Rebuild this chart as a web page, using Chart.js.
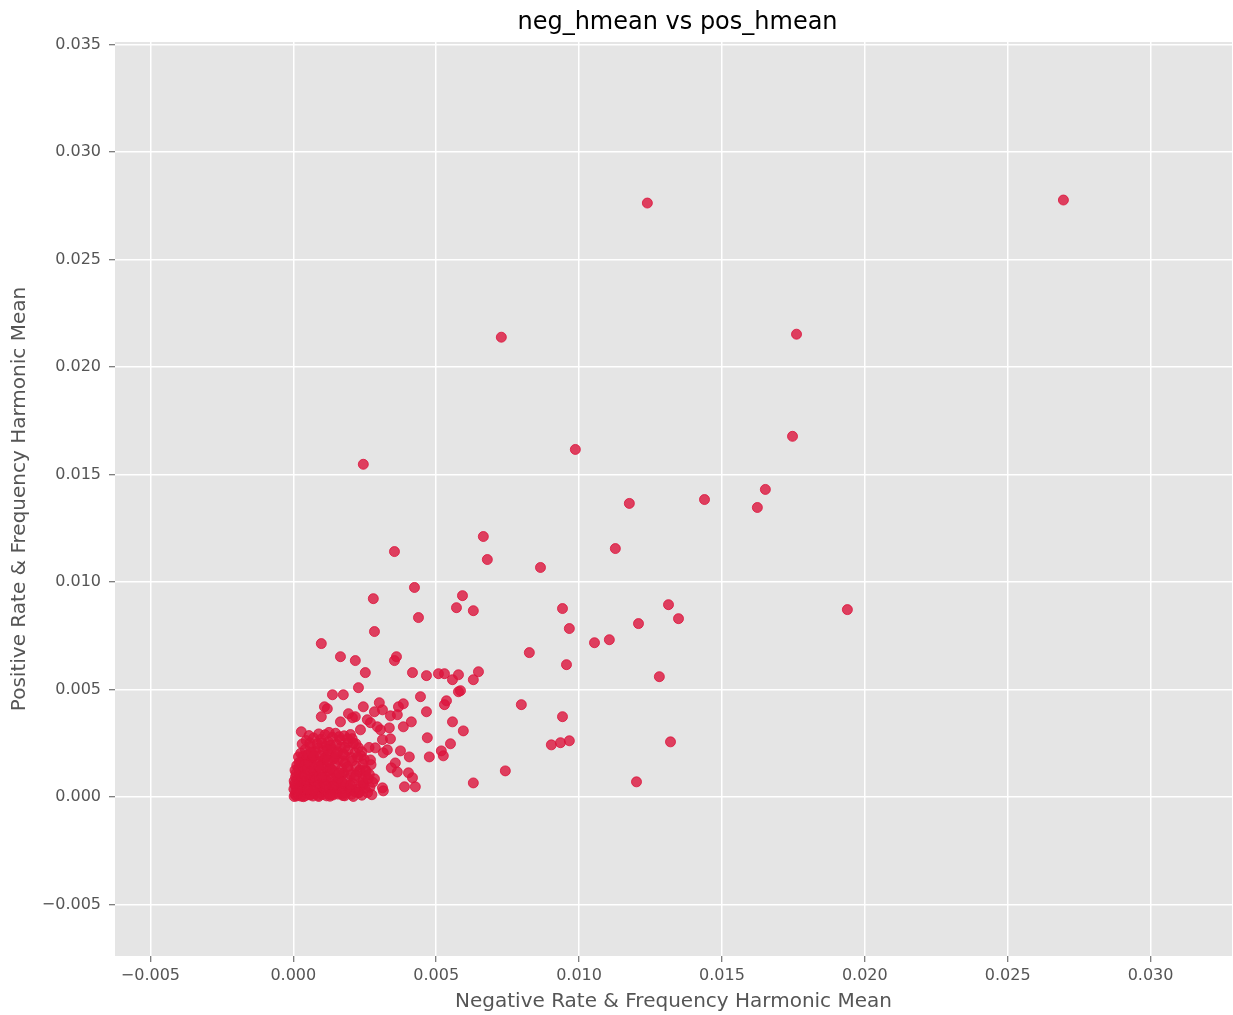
<!DOCTYPE html>
<html>
<head>
<meta charset="utf-8">
<title>neg_hmean vs pos_hmean</title>
<script src="https://cdn.jsdelivr.net/npm/chart.js@4.4.1/dist/chart.umd.min.js"></script>
<style>
  html, body { margin: 0; padding: 0; background: #ffffff; overflow: hidden; }
  canvas { display: block; }
</style>
</head>
<body>
<canvas id="chart" width="1233" height="1015"></canvas>
<script>
// Labels
const chartTitle = 'neg_hmean vs pos_hmean';
const xTitle = 'Negative Rate & Frequency Harmonic Mean';
const yTitle = 'Positive Rate & Frequency Harmonic Mean';

// Axis ticks and ranges
const xTicks = [-0.005, 0.000, 0.005, 0.010, 0.015, 0.020, 0.025, 0.030];
const yTicks = [-0.005, 0.000, 0.005, 0.010, 0.015, 0.020, 0.025, 0.030, 0.035];
const xRange = [-0.00624, 0.03285];
const yRange = [-0.0074, 0.03511];

// Words with high neg/pos harmonic means: [neg_hmean, pos_hmean]
const sparsePoints = [
  [0.02695, 0.02776], [0.01239, 0.02762], [0.00728, 0.02138], [0.01761, 0.02152],
  [0.01747, 0.01677], [0.00987, 0.01616], [0.00245, 0.01547], [0.01176, 0.01365],
  [0.01439, 0.01383], [0.01652, 0.01430], [0.01624, 0.01346], [0.00665, 0.01211],
  [0.01127, 0.01155], [0.00354, 0.01141], [0.00679, 0.01104], [0.00865, 0.01067],
  [0.00424, 0.00974], [0.00280, 0.00922], [0.00592, 0.00936], [0.00571, 0.00880],
  [0.00630, 0.00866], [0.00942, 0.00876], [0.01313, 0.00894], [0.00438, 0.00834],
  [0.01348, 0.00829], [0.01939, 0.00871], [0.00966, 0.00783], [0.01208, 0.00806],
  [0.01106, 0.00731], [0.01054, 0.00717], [0.00284, 0.00769], [0.00098, 0.00713],
  [0.00826, 0.00671], [0.00956, 0.00615], [0.01281, 0.00559], [0.00165, 0.00652],
  [0.00217, 0.00634], [0.00252, 0.00578], [0.00354, 0.00634], [0.00361, 0.00652],
  [0.00417, 0.00578], [0.00466, 0.00564], [0.00508, 0.00573], [0.00529, 0.00573],
  [0.00578, 0.00568], [0.00557, 0.00545], [0.00648, 0.00582], [0.00630, 0.00545],
  [0.00578, 0.00489], [0.00585, 0.00494], [0.00445, 0.00466], [0.00385, 0.00433],
  [0.00368, 0.00419], [0.00536, 0.00447], [0.00529, 0.00429], [0.00466, 0.00396],
  [0.00413, 0.00349], [0.00385, 0.00326], [0.00557, 0.00349], [0.00595, 0.00307],
  [0.00798, 0.00429], [0.00942, 0.00373], [0.00469, 0.00275], [0.00550, 0.00247],
  [0.00518, 0.00214], [0.00525, 0.00191], [0.00375, 0.00214], [0.00406, 0.00186],
  [0.00476, 0.00186], [0.00903, 0.00242], [0.00935, 0.00252], [0.00966, 0.00261],
  [0.01320, 0.00256], [0.00742, 0.00121], [0.00403, 0.00112], [0.00417, 0.00089],
  [0.00389, 0.00047], [0.00427, 0.00047], [0.00630, 0.00065], [0.01201, 0.00070],
  [0.00228, 0.00508], [0.00137, 0.00475], [0.00175, 0.00475], [0.00301, 0.00438],
  [0.00245, 0.00419], [0.00109, 0.00419], [0.00119, 0.00410], [0.00193, 0.00387],
  [0.00217, 0.00373], [0.00098, 0.00373], [0.00284, 0.00396], [0.00312, 0.00405],
  [0.00340, 0.00377], [0.00364, 0.00382], [0.00259, 0.00359], [0.00270, 0.00345],
  [0.00028, 0.00303], [0.00336, 0.00321], [0.00305, 0.00312], [0.00340, 0.00270],
  [0.00315, 0.00205], [0.00329, 0.00219], [0.00357, 0.00158], [0.00364, 0.00116],
  [0.00343, 0.00135], [0.00284, 0.00084], [0.00312, 0.00042], [0.00315, 0.00028],
  [0.00228, 0.00019], [0.00245, 0.00056], [0.00165, 0.00349], [0.00207, 0.00368],
  [0.00235, 0.00312], [0.00294, 0.00326], [0.00312, 0.00266], [0.00287, 0.00228],
  [0.00270, 0.00172], [0.00252, 0.00126]
];

// Bulk of the vocabulary, packed near the origin
const densePoints = [
  [0.00003, 0.00002], [0.00006, 0.00011], [0.00011, 0.00004], [0.00014, 0.00019],
  [0.00019, 0.00008], [0.00024, 0.00027], [0.00028, 0.00003], [0.00033, 0.00014],
  [0.00038, 0.00022], [0.00042, 0.00006], [0.00047, 0.00017], [0.00053, 0.00029],
  [0.00058, 0.00009], [0.00064, 0.00021], [0.00069, 0.00004], [0.00075, 0.00015],
  [0.00081, 0.00026], [0.00087, 0.00007], [0.00094, 0.00018], [0.00101, 0.00011],
  [0.00108, 0.00024], [0.00116, 0.00005], [0.00123, 0.00016], [0.00131, 0.00028],
  [0.00139, 0.00009], [0.00147, 0.00021], [0.00156, 0.00013], [0.00165, 0.00026],
  [0.00174, 0.00006], [0.00183, 0.00018], [0.00193, 0.00029], [0.00204, 0.00012],
  [0.00216, 0.00024], [0.00009, 0.00025], [0.00017, 0.00014], [0.00036, 0.00001],
  [0.00061, 0.00012], [0.00089, 0.00002], [0.00128, 0.00003], [0.00171, 0.00015],
  [0.00002, 0.00036], [0.00007, 0.00052], [0.00013, 0.00041], [0.00018, 0.00063],
  [0.00025, 0.00047], [0.00031, 0.00058], [0.00036, 0.00034], [0.00043, 0.00069],
  [0.00049, 0.00044], [0.00055, 0.00056], [0.00062, 0.00038], [0.00068, 0.00065],
  [0.00074, 0.00049], [0.00081, 0.00033], [0.00087, 0.00061], [0.00094, 0.00045],
  [0.00102, 0.00068], [0.00109, 0.00037], [0.00117, 0.00054], [0.00125, 0.00042],
  [0.00134, 0.00066], [0.00143, 0.00035], [0.00152, 0.00051], [0.00161, 0.00062],
  [0.00171, 0.00039], [0.00182, 0.00057], [0.00194, 0.00046], [0.00207, 0.00064],
  [0.00221, 0.00036], [0.00236, 0.00052], [0.00015, 0.00031], [0.00046, 0.00051],
  [0.00078, 0.00057], [0.00113, 0.00047], [0.00147, 0.00059], [0.00199, 0.00033],
  [0.00003, 0.00074], [0.00008, 0.00093], [0.00014, 0.00081], [0.00021, 0.00108],
  [0.00027, 0.00072], [0.00034, 0.00096], [0.00041, 0.00116], [0.00047, 0.00079],
  [0.00054, 0.00102], [0.00061, 0.00087], [0.00068, 0.00113], [0.00075, 0.00075],
  [0.00083, 0.00099], [0.00091, 0.00084], [0.00099, 0.00118], [0.00107, 0.00091],
  [0.00116, 0.00077], [0.00125, 0.00106], [0.00134, 0.00088], [0.00144, 0.00114],
  [0.00154, 0.00073], [0.00165, 0.00097], [0.00176, 0.00111], [0.00188, 0.00082],
  [0.00201, 0.00103], [0.00214, 0.00089], [0.00229, 0.00117], [0.00243, 0.00078],
  [0.00252, 0.00098], [0.00037, 0.00071], [0.00072, 0.00095], [0.00119, 0.00119],
  [0.00158, 0.00086],
  [0.00006, 0.00124], [0.00012, 0.00146], [0.00019, 0.00132], [0.00026, 0.00158],
  [0.00033, 0.00138], [0.00041, 0.00171], [0.00048, 0.00127], [0.00056, 0.00152],
  [0.00064, 0.00176], [0.00072, 0.00134], [0.00081, 0.00161], [0.00089, 0.00122],
  [0.00098, 0.00147], [0.00107, 0.00173], [0.00116, 0.00136], [0.00126, 0.00159],
  [0.00136, 0.00126], [0.00147, 0.00149], [0.00158, 0.00174], [0.00169, 0.00131],
  [0.00181, 0.00156], [0.00193, 0.00128], [0.00206, 0.00167], [0.00219, 0.00142],
  [0.00233, 0.00125], [0.00244, 0.00153], [0.00052, 0.00163], [0.00093, 0.00168],
  [0.00141, 0.00178], [0.00175, 0.00167],
  [0.00018, 0.00186], [0.00026, 0.00203], [0.00034, 0.00189], [0.00042, 0.00221],
  [0.00051, 0.00196], [0.00059, 0.00234], [0.00068, 0.00184], [0.00077, 0.00211],
  [0.00086, 0.00227], [0.00095, 0.00192], [0.00105, 0.00216], [0.00115, 0.00238],
  [0.00124, 0.00199], [0.00134, 0.00224], [0.00145, 0.00187], [0.00156, 0.00209],
  [0.00167, 0.00231], [0.00179, 0.00194], [0.00191, 0.00218], [0.00203, 0.00183],
  [0.00216, 0.00206], [0.00228, 0.00229], [0.00237, 0.00191], [0.00112, 0.00183],
  [0.00063, 0.00207],
  [0.00031, 0.00246], [0.00045, 0.00262], [0.00058, 0.00251], [0.00071, 0.00274],
  [0.00084, 0.00248], [0.00097, 0.00268], [0.00111, 0.00289], [0.00123, 0.00256],
  [0.00137, 0.00277], [0.00151, 0.00245], [0.00164, 0.00266], [0.00178, 0.00284],
  [0.00192, 0.00253], [0.00206, 0.00271], [0.00219, 0.00247], [0.00089, 0.00293],
  [0.00148, 0.00296],
  [0.00020, 0.00040], [0.00050, 0.00035], [0.00080, 0.00045], [0.00110, 0.00060],
  [0.00140, 0.00050], [0.00170, 0.00070], [0.00200, 0.00055], [0.00230, 0.00020],
  [0.00250, 0.00040], [0.00245, 0.00065], [0.00260, 0.00020], [0.00255, 0.00120],
  [0.00262, 0.00085], [0.00248, 0.00175], [0.00240, 0.00210], [0.00225, 0.00185],
  [0.00030, 0.00090], [0.00060, 0.00120], [0.00090, 0.00140], [0.00120, 0.00170],
  [0.00150, 0.00200], [0.00180, 0.00230], [0.00210, 0.00250], [0.00040, 0.00150],
  [0.00070, 0.00190], [0.00100, 0.00250], [0.00130, 0.00240], [0.00160, 0.00280],
  [0.00190, 0.00270], [0.00020, 0.00160], [0.00010, 0.00110], [0.00005, 0.00060],
  [0.00130, 0.00010], [0.00180, 0.00005], [0.00210, 0.00002], [0.00240, 0.00008],
  [0.00100, 0.00090], [0.00130, 0.00130], [0.00160, 0.00110], [0.00190, 0.00140],
  [0.00220, 0.00100], [0.00070, 0.00030], [0.00040, 0.00100], [0.00120, 0.00220],
  [0.00175, 0.00200], [0.00055, 0.00285], [0.00125, 0.00300], [0.00200, 0.00290],
  [0.00268, 0.00045], [0.00275, 0.00010], [0.00272, 0.00150], [0.00265, 0.00230],
  [0.00278, 0.00068], [0.00266, 0.00105]
];

const markerColor = 'rgba(220, 20, 60, 0.8)';
const fontFamily = '"DejaVu Sans", "Liberation Sans", sans-serif';

const toXY = p => ({ x: p[0], y: p[1] });
const fmtTick = v => Number(v).toFixed(3).replace('-', '\u2212');

// Grey panel behind the plot area
const panelBackground = {
  id: 'panelBackground',
  beforeDraw(chart) {
    const { ctx, chartArea: a } = chart;
    ctx.save();
    ctx.fillStyle = '#e5e5e5';
    ctx.fillRect(a.left, a.top, a.right - a.left, a.bottom - a.top);
    ctx.restore();
  }
};

// Title centred over the plot area
const plotTitle = {
  id: 'plotTitle',
  afterDraw(chart) {
    const { ctx, chartArea: a } = chart;
    ctx.save();
    ctx.font = '24px ' + fontFamily;
    ctx.fillStyle = '#000000';
    ctx.textAlign = 'center';
    ctx.textBaseline = 'alphabetic';
    ctx.fillText(chartTitle, (a.left + a.right) / 2 + 4, 29);
    ctx.restore();
  }
};

const gridStyle = {
  color: '#ffffff',
  lineWidth: 1.5,
  drawTicks: true,
  tickLength: 6,
  tickWidth: 1,
  tickColor: '#555555'
};

// Fixed axis box sizes so the plot area keeps its place
const fixX = s => { s.height = 59; s.paddingLeft = 0; s.paddingRight = 0; };
const fixY = s => { s.width = 115; s.paddingTop = 0; s.paddingBottom = 0; };

new Chart(document.getElementById('chart'), {
  type: 'scatter',
  data: {
    datasets: [{
      data: sparsePoints.concat(densePoints).map(toXY),
      backgroundColor: markerColor,
      borderColor: markerColor,
      borderWidth: 1,
      pointRadius: 5,
      pointHoverRadius: 5
    }]
  },
  options: {
    responsive: false,
    animation: false,
    devicePixelRatio: 1,
    events: [],
    layout: { autoPadding: false, padding: { top: 42, right: 1, bottom: 0, left: 0 } },
    plugins: {
      legend: { display: false },
      tooltip: { enabled: false },
      title: { display: false }
    },
    scales: {
      x: {
        type: 'linear',
        position: 'bottom',
        min: xRange[0],
        max: xRange[1],
        afterBuildTicks: s => { s.ticks = xTicks.map(v => ({ value: v })); },
        afterFit: fixX,
        grid: gridStyle,
        border: { display: false },
        ticks: {
          autoSkip: false,
          maxRotation: 0,
          padding: 4,
          color: '#555555',
          font: { family: fontFamily, size: 16 },
          callback: v => fmtTick(v)
        },
        title: {
          display: true,
          text: xTitle,
          color: '#555555',
          font: { family: fontFamily, size: 20 },
          padding: { top: 0, bottom: 1 }
        }
      },
      y: {
        type: 'linear',
        position: 'left',
        min: yRange[0],
        max: yRange[1],
        afterBuildTicks: s => { s.ticks = yTicks.map(v => ({ value: v })); },
        afterFit: fixY,
        grid: gridStyle,
        border: { display: false },
        ticks: {
          autoSkip: false,
          padding: 8,
          color: '#555555',
          font: { family: fontFamily, size: 16 },
          callback: v => fmtTick(v)
        },
        title: {
          display: true,
          text: yTitle,
          color: '#555555',
          font: { family: fontFamily, size: 20 },
          padding: { top: 8, bottom: 0 }
        }
      }
    }
  },
  plugins: [panelBackground, plotTitle]
});
</script>
</body>
</html>
